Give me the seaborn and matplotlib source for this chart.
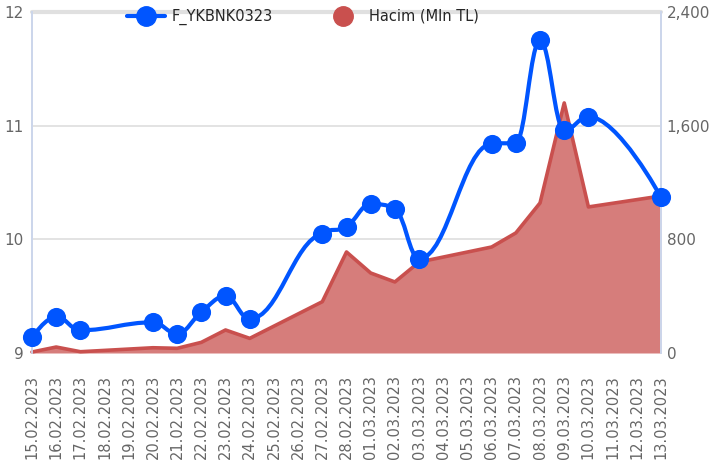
import matplotlib
matplotlib.use("Agg")
import matplotlib.pyplot as plt
from matplotlib.lines import Line2D
from matplotlib.path import Path
from matplotlib.patches import PathPatch
from matplotlib.ticker import FuncFormatter
import pandas as pd
import seaborn as sns

# trading days shown on the chart
trade_dates = [
    "15.02.2023", "16.02.2023", "17.02.2023", "20.02.2023", "21.02.2023",
    "22.02.2023", "23.02.2023", "24.02.2023", "27.02.2023", "28.02.2023",
    "01.03.2023", "02.03.2023", "03.03.2023", "06.03.2023", "07.03.2023",
    "08.03.2023", "09.03.2023", "10.03.2023", "13.03.2023",
]
price = [
    9.14, 9.32, 9.20, 9.27, 9.17, 9.36, 9.50, 9.30, 10.05, 10.11,
    10.31, 10.27, 9.83, 10.84, 10.85, 11.75, 10.96, 11.08, 10.37,
]
volume = [
    7, 42, 9, 37, 33, 75, 162, 103, 361, 711,
    563, 500, 640, 746, 845, 1056, 1760, 1028, 1105,
]

price_label = "F_YKBNK0323"
volume_label = "Hacim (Mln TL)"
blue = "#0055ff"
red = "#c9504e"
red_fill = "#d67d7b"
axis_col = "#ccd6eb"
text_col = "#666666"

df = pd.DataFrame({
    "date": pd.to_datetime(trade_dates, format="%d.%m.%Y"),
    "price": price,
    "volume": volume,
})
start = df["date"].min()
df["x"] = (df["date"] - start).dt.days
all_days = pd.date_range(start, df["date"].max(), freq="D")
day_labels = all_days.strftime("%d.%m.%Y")


def spline_path(xs, ys, smoothing=1.5):
    # smooth curve through the points (cubic bezier, highcharts style)
    denom = smoothing + 1
    n = len(xs)
    right_ctrl = [None] * n
    verts = [(xs[0], ys[0])]
    codes = [Path.MOVETO]
    for i in range(1, n):
        x, y = xs[i], ys[i]
        lx, ly = xs[i - 1], ys[i - 1]
        left_c = (x, y)
        if i < n - 1:
            nx, ny = xs[i + 1], ys[i + 1]
            lcx = (smoothing * x + lx) / denom
            lcy = (smoothing * y + ly) / denom
            rcx = (smoothing * x + nx) / denom
            rcy = (smoothing * y + ny) / denom
            if rcx != lcx:
                corr = (rcy - lcy) * (rcx - x) / (rcx - lcx) + y - rcy
                lcy += corr
                rcy += corr
            if lcy > max(ly, y):
                lcy = max(ly, y)
                rcy = 2 * y - lcy
            elif lcy < min(ly, y):
                lcy = min(ly, y)
                rcy = 2 * y - lcy
            if rcy > max(ny, y):
                rcy = max(ny, y)
                lcy = 2 * y - rcy
            elif rcy < min(ny, y):
                rcy = min(ny, y)
                lcy = 2 * y - rcy
            left_c = (lcx, lcy)
            right_ctrl[i] = (rcx, rcy)
        prev_c = right_ctrl[i - 1] or (lx, ly)
        verts += [prev_c, left_c, (x, y)]
        codes += [Path.CURVE4] * 3
    return Path(verts, codes)


sns.set_style("white")
plt.rcParams["font.family"] = ["DejaVu Sans"]

fig = plt.figure(figsize=(7.15, 4.70), dpi=100)
ax = fig.add_axes([32 / 715, 117 / 470, 629 / 715, 341 / 470])
ax2 = ax.twinx()

# volume area (right axis)
ax.fill_between(df["x"], df["volume"], 0, color=red_fill, linewidth=0, zorder=2)
sns.lineplot(data=df, x="x", y="volume", ax=ax, color=red, linewidth=2.6,
             zorder=3, legend=False, clip_on=False)
ax.set_ylim(0, 2400)
ax.set_yticks([0, 800, 1600, 2400])
ax.yaxis.set_major_formatter(FuncFormatter(lambda v, p: f"{int(v):,}"))
ax.grid(axis="y", color="#e0e0e0", linewidth=1.3)
ax.grid(axis="x", visible=False)

# price line (left axis)
ax2.add_patch(PathPatch(spline_path(list(df["x"]), price), facecolor="none",
                        edgecolor=blue, linewidth=3, zorder=4, clip_on=False))
sns.scatterplot(data=df, x="x", y="price", ax=ax2, color=blue, s=190,
                edgecolor=blue, linewidth=0, zorder=5, clip_on=False, legend=False)
ax2.set_ylim(9, 12)
ax2.set_yticks([9, 10, 11, 12])
ax2.grid(False)

ax.yaxis.tick_right()
ax2.yaxis.tick_left()

ax.set_xlim(0, len(all_days) - 1)
ax.set_xticks(range(len(all_days)))
ax.set_xticklabels(day_labels, rotation=90, fontsize=10.5, color=text_col)
ax.set_xlabel("")
ax.set_ylabel("")
ax2.set_ylabel("")

for a in (ax, ax2):
    for side in ("top", "bottom"):
        a.spines[side].set_visible(False)
    a.spines["left"].set_color(axis_col)
    a.spines["right"].set_color(axis_col)
    a.spines["left"].set_linewidth(1.3)
    a.spines["right"].set_linewidth(1.3)
ax.tick_params(axis="x", length=10, color=axis_col, width=1.2, pad=6)
ax.tick_params(axis="y", length=0, labelsize=11, labelcolor=text_col, pad=4)
ax2.tick_params(axis="y", length=0, labelsize=11, labelcolor=text_col, pad=6)
ax.axhline(2400, color="#e0e0e0", linewidth=3, zorder=1, clip_on=False)

handles = [
    Line2D([], [], color=blue, linewidth=3, marker="o", markersize=14),
    Line2D([], [], color=red, linewidth=0, marker="o", markersize=14),
]
fig.legend(handles, [price_label, volume_label], loc="center",
           bbox_to_anchor=(303 / 715, 1 - 17 / 470), ncol=2, frameon=False,
           fontsize=10.5, handlelength=2.6, columnspacing=3.5, handletextpad=0.5)

fig.savefig("out.png", dpi=100)
